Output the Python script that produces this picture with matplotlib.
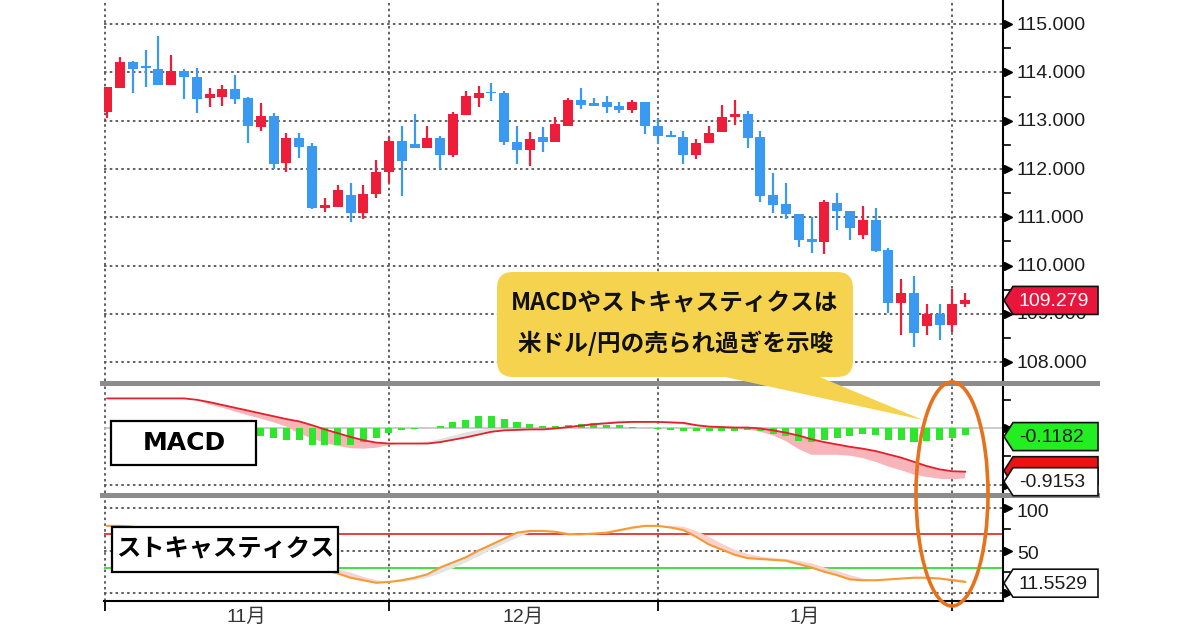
import numpy as np
import matplotlib
matplotlib.use('Agg')
import matplotlib.pyplot as plt
from matplotlib.patches import Rectangle, Polygon, Ellipse, FancyBboxPatch

plt.rcParams['font.family'] = ['Liberation Sans', 'Noto Sans CJK JP', 'DejaVu Sans']

# USD/JPY daily candles
opens = [113.18, 113.67, 114.21, 114.11, 114.07, 113.73, 114.03, 113.91, 113.47, 113.49,
         113.65, 113.48, 112.87, 113.10, 112.13, 112.64, 112.48, 111.20, 111.22, 111.46,
         111.09, 111.48, 111.94, 112.57, 112.51, 112.43, 112.65, 112.29, 113.12, 113.47,
         113.59, 113.58, 112.56, 112.39, 112.67, 112.56, 112.89, 113.43, 113.36, 113.39,
         113.30, 113.23, 113.39, 112.89, 112.70, 112.67, 112.30, 112.53, 112.76, 113.07,
         113.13, 112.67, 111.46, 111.27, 111.07, 110.55, 110.48, 111.30, 111.13, 110.63,
         110.94, 110.32, 109.23, 109.44, 108.75, 109.00, 108.77, 109.20]
highs = [113.70, 114.31, 114.23, 114.46, 114.76, 114.37, 114.07, 114.10, 113.67, 113.74,
         113.94, 113.49, 113.36, 113.15, 112.74, 112.74, 112.53, 111.39, 111.67, 111.72,
         111.67, 112.18, 112.67, 112.90, 113.13, 112.90, 112.68, 113.18, 113.62, 113.72,
         113.78, 113.62, 112.90, 112.77, 112.86, 113.08, 113.48, 113.68, 113.48, 113.52,
         113.38, 113.43, 113.39, 113.05, 112.79, 112.79, 112.63, 112.89, 113.32, 113.43,
         113.20, 112.79, 111.92, 111.72, 111.07, 111.00, 111.36, 111.51, 111.13, 111.23,
         111.20, 110.36, 109.73, 109.79, 109.20, 109.20, 109.51, 109.44]
lows = [113.05, 113.67, 113.57, 113.69, 113.73, 113.73, 113.44, 113.15, 113.28, 113.30,
        113.34, 112.53, 112.79, 112.01, 111.94, 112.23, 111.18, 111.11, 111.22, 110.91,
        110.96, 111.41, 111.71, 111.44, 112.43, 112.43, 112.01, 112.25, 113.12, 113.28,
        113.41, 112.49, 112.10, 112.07, 112.36, 112.56, 112.89, 113.24, 113.31, 113.15,
        113.17, 113.17, 112.72, 112.52, 112.67, 112.10, 112.21, 112.53, 112.76, 112.91,
        112.44, 111.32, 111.09, 110.96, 110.39, 110.27, 110.25, 110.74, 110.54, 110.56,
        110.29, 109.01, 108.56, 108.32, 108.56, 108.46, 108.63, 109.15]
closes = [113.70, 114.21, 114.08, 114.09, 113.73, 114.03, 113.90, 113.46, 113.55, 113.65,
          113.46, 112.89, 113.09, 112.10, 112.64, 112.46, 111.20, 111.26, 111.56, 111.09,
          111.49, 111.94, 112.57, 112.16, 112.43, 112.65, 112.29, 113.13, 113.51, 113.57,
          113.57, 112.56, 112.39, 112.63, 112.56, 112.93, 113.43, 113.32, 113.31, 113.28,
          113.23, 113.39, 112.89, 112.69, 112.67, 112.30, 112.53, 112.75, 113.07, 113.13,
          112.65, 111.45, 111.25, 111.07, 110.54, 110.48, 111.31, 111.13, 110.77, 110.94,
          110.31, 109.23, 109.44, 108.60, 109.00, 108.77, 109.20, 109.28]

# MACD panel
macd_line = [0.63, 0.63, 0.63, 0.63, 0.63, 0.63, 0.63, 0.60, 0.55, 0.49,
             0.43, 0.37, 0.31, 0.25, 0.19, 0.14, 0.06, -0.03, -0.11, -0.19,
             -0.26, -0.31, -0.33, -0.33, -0.33, -0.33, -0.30, -0.25, -0.20, -0.14,
             -0.08, -0.05, -0.04, -0.03, -0.03, -0.01, 0.02, 0.05, 0.08, 0.10,
             0.12, 0.13, 0.13, 0.13, 0.12, 0.11, 0.06, 0.03, 0.02, 0.01,
             0.01, -0.01, -0.05, -0.10, -0.16, -0.24, -0.30, -0.35, -0.40, -0.44,
             -0.49, -0.56, -0.63, -0.72, -0.81, -0.88, -0.92, -0.93]
macd_fast = [0.63, 0.63, 0.63, 0.63, 0.63, 0.63, 0.63, 0.60, 0.50, 0.43,
             0.35, 0.27, 0.20, 0.12, 0.03, -0.12, -0.22, -0.32, -0.38, -0.43,
             -0.44, -0.42, -0.36, -0.33, -0.31, -0.28, -0.22, -0.15, -0.08, -0.03,
             0.00, -0.01, -0.02, -0.02, -0.02, 0.01, 0.05, 0.09, 0.12, 0.15,
             0.17, 0.16, 0.14, 0.12, 0.10, 0.08, 0.04, 0.01, 0.00, -0.01,
             -0.03, -0.08, -0.16, -0.28, -0.45, -0.57, -0.57, -0.57, -0.59, -0.64,
             -0.72, -0.82, -0.90, -0.99, -1.04, -1.08, -1.09, -1.07]
macd_hist = [0.00, -0.02, -0.04, -0.06, -0.08, -0.10, -0.11, -0.12, -0.13, -0.15,
             -0.16, -0.17, -0.18, -0.21, -0.25, -0.26, -0.36, -0.36, -0.36, -0.36,
             -0.30, -0.21, -0.11, -0.04, -0.015, 0.01, 0.04, 0.12, 0.18, 0.25,
             0.25, 0.19, 0.12, 0.085, 0.05, 0.035, 0.057, 0.09, 0.106, 0.064,
             0.064, 0.02, -0.01, -0.02, -0.04, -0.06, -0.06, -0.06, -0.06, -0.06,
             -0.04, -0.07, -0.13, -0.17, -0.28, -0.30, -0.26, -0.21, -0.17, -0.13,
             -0.15, -0.26, -0.26, -0.30, -0.28, -0.26, -0.21, -0.14]

# stochastics panel
stoch_k = [79, 79, 78, 76, 73, 70, 66, 62, 58, 54,
           50, 46, 42, 38, 35, 32, 29, 27, 23, 18,
           15, 12, 13, 15, 18, 22, 30, 36, 42, 50,
           57, 64, 71, 73, 73, 72, 69, 69, 70, 71,
           74, 77, 79, 79, 77, 74, 66, 57, 51, 45,
           41, 40, 39, 38, 34, 30, 25, 21, 16, 15,
           15, 16, 17, 18, 18, 17, 15, 13]
stoch_d = [79, 79, 79, 79, 77, 74, 70, 66, 62, 58,
           54, 50, 46, 42, 39, 36, 33, 31, 28, 24,
           19, 15, 13, 13, 15, 18, 23, 29, 36, 43,
           51, 58, 65, 71, 73, 73, 71, 69, 69, 70,
           72, 75, 78, 79, 79, 78, 73, 66, 58, 51,
           46, 43, 41, 40, 38, 35, 30, 26, 21, 17,
           15, 15, 16, 17, 18, 18, 17, 15]

price_ticks = [108, 109, 110, 111, 112, 113, 114, 115]
month_lines = [22, 43, 66]
month_labels = ['11月', '12月', '1月']
last_price = 109.279
hist_last = -0.1182
line_last = -0.9153
stoch_last = 11.5529
stoch_grid = [100, 50, 0]
stoch_levels = [70, 30]

RED = '#EE1D3A'
BLUE = '#3A9AF2'
GRID = dict(color='#555555', lw=1.3, ls=(0, (1.4, 1.8)), zorder=1)

W, H = 1200, 630
def rect(x0, y0, x1, y1):
    return [x0 / W, 1 - y1 / H, (x1 - x0) / W, (y1 - y0) / H]

fig = plt.figure(figsize=(12, 6.3), dpi=100)
ax = fig.add_axes(rect(104, 0, 1003, 381))
axm = fig.add_axes(rect(104, 386, 1003, 493))
axs = fig.add_axes(rect(104, 498, 1003, 601))
ov = fig.add_axes([0, 0, 1, 1], zorder=10)
ov.set_xlim(0, W)
ov.set_ylim(H, 0)
ov.axis('off')

x = np.arange(len(closes))
o = np.array(opens); c = np.array(closes)
cols = np.where(c >= o, RED, BLUE)
xl = (-0.25, 69.95)
vgrid = [-0.2] + month_lines

for a in (ax, axm, axs):
    a.set_xlim(*xl)
    for s in ('left', 'top', 'bottom'):
        a.spines[s].set_visible(False)
    a.spines['right'].set_linewidth(1.5)
    a.set_yticks([])
    a.set_xticks([])
    for v in vgrid:
        a.axvline(v, **GRID)

# candles
ax.set_ylim(107.61, 115.50)
for p in price_ticks:
    ax.axhline(p, **GRID)
ax.vlines(x, lows, highs, colors=cols, lw=1.6, zorder=3)
ax.bar(x, np.maximum(np.abs(c - o), 0.035), bottom=np.minimum(o, c), width=0.78,
       color=cols, lw=0, zorder=4)

# MACD
axm.set_ylim(-1.383, 0.894)
axm.axhline(0, color='#c4c4c4', lw=1.2, zorder=1)
axm.axhline(-1.21, **GRID)
sig = np.array(macd_line); fast = np.array(macd_fast)
axm.fill_between(x, sig, fast, where=fast <= sig, interpolate=True, color='#F7B4B9', lw=0, zorder=2)
axm.fill_between(x, sig, fast, where=fast > sig, interpolate=True, color='#e2e2e2', lw=0, zorder=2)
axm.bar(x, macd_hist, width=0.55, color='#2EE62E', lw=0, zorder=3)
axm.plot(x, sig, color='#E4202C', lw=1.3, zorder=4)

# stochastics
axs.set_ylim(-9.4, 111.8)
for v in stoch_grid:
    axs.axhline(v, **GRID)
axs.axhline(stoch_levels[0], color='#E03030', lw=1.3, zorder=2)
axs.axhline(stoch_levels[1], color='#33DD33', lw=1.3, zorder=2)
k = np.array(stoch_k, float); d = np.array(stoch_d, float)
axs.fill_between(x, k, d, where=d >= k, interpolate=True, color='#FAD2CB', lw=0, zorder=2)
axs.fill_between(x, k, d, where=d < k, interpolate=True, color='#e4e4e4', lw=0, zorder=2)
axs.plot(x, k, color='#F59A34', lw=1.5, zorder=3)
axs.spines['bottom'].set_visible(True)
axs.spines['bottom'].set_linewidth(1.5)
axs.set_xticks(vgrid)
axs.tick_params(axis='x', direction='out', length=7, width=1.3, labelbottom=False)


def to_ov(a, xv, yv):
    dsp = a.transData.transform((xv, yv))
    return ov.transData.inverted().transform(dsp)


TFONT = dict(family='Liberation Sans', fontsize=14, color='#1c1c1c', va='center', ha='left')

def marker(y):
    ov.plot(1008, y, marker='>', ms=6, color='black', zorder=3)

def minor(y):
    ov.plot([1003, 1010], [y, y], color='black', lw=1.2, zorder=3)

def tag(y, face, txt, tcol, h=14):
    pts = [(1004, y), (1013, y - h), (1098, y - h), (1098, y + h), (1013, y + h)]
    ov.add_patch(Polygon(pts, closed=True, fc=face, ec='#111111', lw=1.2, zorder=5))
    ov.text(1019, y + 1, txt, zorder=6, **{**TFONT, 'color': tcol})

# price axis labels
for p in price_ticks:
    _, y = to_ov(ax, 0, p)
    marker(y)
    ov.text(1017, y + 1, f'{p:.3f}', zorder=3, **TFONT)
    if p < price_ticks[-1]:
        minor(to_ov(ax, 0, p + 0.5)[1])
_, y = to_ov(ax, 0, last_price)
tag(y, '#E8163C', f'{last_price:.3f}', 'white')

# MACD axis labels
for v in (0.6, -0.6):
    minor(to_ov(axm, 0, v)[1])
for v in (0, -1.21):
    marker(to_ov(axm, 0, v)[1])
_, yl = to_ov(axm, 0, macd_line[-1])
tag(yl - 1, '#EE1111', '', 'white')
tag(yl + 10, 'white', f'{line_last:.4f}', '#1c1c1c')
_, yh = to_ov(axm, 0, macd_hist[-1])
tag(yh + 2, '#22EE22', f'{hist_last:.4f}', '#1c1c1c')

# stochastic axis labels
for v in stoch_grid:
    _, y = to_ov(axs, 0, v)
    marker(y)
    if v:
        ov.text(1017, y + 4, f'{v}', zorder=3, **TFONT)
for v in (75, 25):
    minor(to_ov(axs, 0, v)[1])
_, y = to_ov(axs, 0, stoch_last)
tag(y, 'white', f'{stoch_last:.4f}', '#1c1c1c')

# month labels, centred between the month boundaries
for i, lab in enumerate(month_labels):
    mx = (vgrid[i] + vgrid[i + 1]) / 2
    px, _ = to_ov(axs, mx, 0)
    ov.text(px, 617, lab, ha='center', va='center', fontsize=14, color='#333333',
            family=['Liberation Sans', 'Noto Sans CJK JP'])

# gray panel separators
for y0 in (381, 493):
    ov.add_patch(Rectangle((100, y0), 1000, 5, fc='#8c8c8c', ec='none', zorder=2))

# indicator name boxes
JP = ['Noto Sans CJK JP', 'DejaVu Sans']
ov.add_patch(Rectangle((111, 421), 145, 44, fc='white', ec='black', lw=1.6, zorder=4))
ov.text(184, 443, 'MACD', ha='center', va='center', fontsize=18, fontweight='bold',
        family='DejaVu Sans', zorder=5)
ov.add_patch(Rectangle((112, 527), 226, 45, fc='white', ec='black', lw=1.6, zorder=4))
ov.text(225, 549, 'ストキャスティクス', ha='center', va='center', fontsize=17.5,
        fontweight='bold', family=JP, zorder=5)

# callout
YEL = '#F5D34E'
ov.add_patch(Polygon([(684, 368), (798, 368), (923, 420)], closed=True, fc=YEL, ec='none', zorder=6))
ov.add_patch(FancyBboxPatch((497, 272), 356, 105, boxstyle='round,pad=0,rounding_size=16',
                            fc=YEL, ec='none', zorder=6))
ov.text(675, 304, 'MACDやストキャスティクスは', ha='center', va='center', fontsize=17,
        fontweight='bold', family=JP, color='#111111', zorder=7)
ov.text(676, 343, '米ドル/円の売られ過ぎを示唆', ha='center', va='center', fontsize=17,
        fontweight='bold', family=JP, color='#111111', zorder=7)

# highlight ellipse
ov.add_patch(Ellipse((952, 494), 72, 224, fill=False, ec='#E8711C', lw=2.6, zorder=8))

fig.savefig('out.png', dpi=100, facecolor='white')
